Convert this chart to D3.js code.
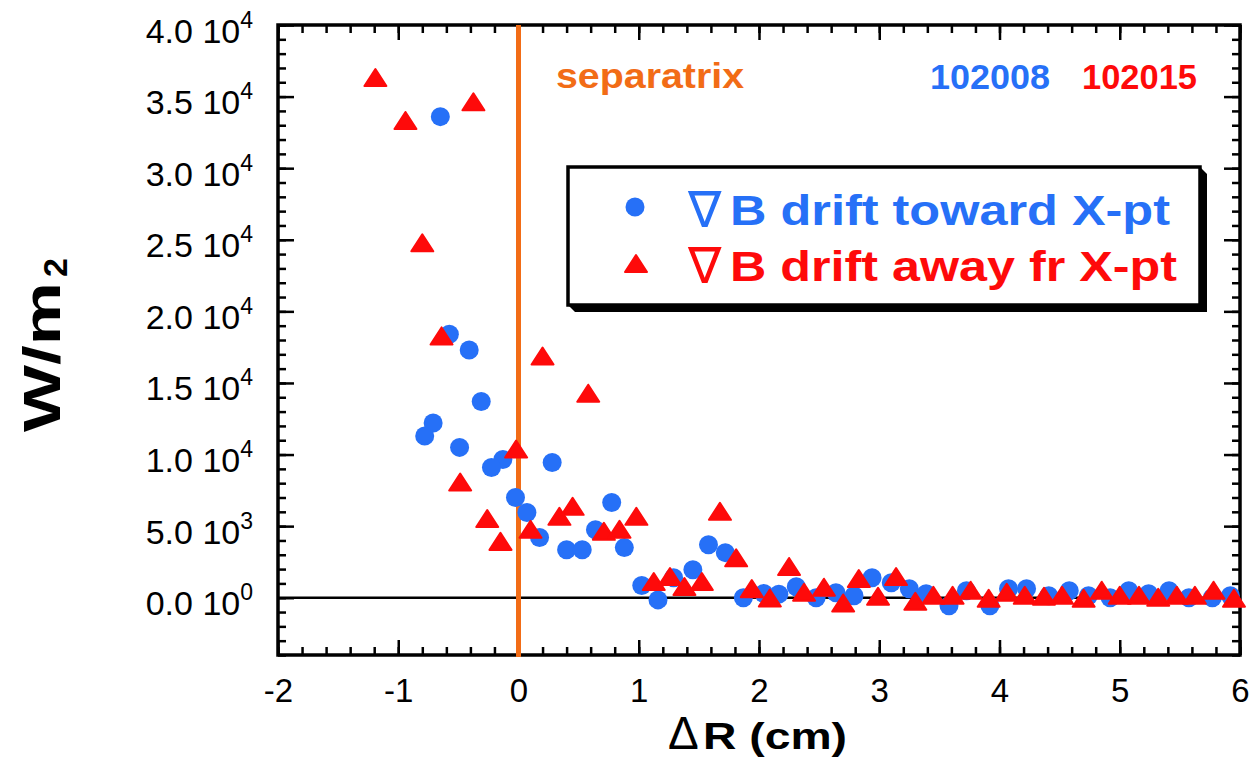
<!DOCTYPE html>
<html>
<head>
<meta charset="utf-8">
<script src="https://cdn.jsdelivr.net/npm/d3@7"></script>
<style>
  body { margin: 0; background: #fff; }
  text { font-family: "Liberation Sans", Arial, sans-serif; }
</style>
</head>
<body>
<div id="chart"></div>
<script>
// shot 102008, grad-B drift toward X-pt (blue circles)
let blueX = [-0.65, -0.575, -0.41, -0.31, -0.71, -0.78, -0.49, -0.13, -0.225, 0.28,
    -0.025, 0.07, 0.775, 0.175, 0.64, 0.40, 0.53, 0.88, 1.58, 1.72,
    1.45, 1.025, 1.29, 1.16, 1.87, 2.04, 2.165, 2.31, 2.475, 2.64,
    2.79, 2.94, 3.10, 3.25, 3.39, 3.58, 3.725, 3.92, 4.075, 4.225,
    4.41, 4.58, 4.74, 4.92, 5.075, 5.24, 5.41, 5.575, 5.77, 5.92]
let blueY = [33600, 18400, 17300, 13700, 12200, 11300, 10500, 9650, 9100, 9450,
    7000, 5950, 6650, 4200, 4750, 3350, 3350, 3500, 3700, 3150,
    1950, 850, 1400, -150, 0, 300, 250, 770, 0, 350,
    140, 1400, 1050, 630, 280, -560, 490, -560, 630, 630,
    140, 490, 140, 0, 490, 280, 490, 0, 0, 140]

// shot 102015, grad-B drift away fr X-pt (red triangles)
let redX = [-1.19, -0.94, -0.375, -0.80, -0.64, 0.20, 0.58, -0.02, -0.485, -0.26,
    -0.15, 0.10, 0.34, 0.45, 0.71, 0.84, 0.98, 1.675, 1.81, 1.125,
    1.26, 1.38, 1.525, 1.94, 2.09, 2.25, 2.375, 2.54, 2.70, 2.83,
    2.99, 3.14, 3.30, 3.45, 3.61, 3.76, 3.91, 4.06, 4.21, 4.37,
    4.52, 4.70, 4.85, 5.00, 5.16, 5.32, 5.475, 5.625, 5.78, 5.95]
let redY = [36300, 33300, 34600, 24750, 18250, 16850, 14250, 10350, 8050, 5500,
    3900, 4750, 5650, 6350, 4600, 4750, 5650, 6000, 2750, 1100,
    1450, 750, 1100, 600, -50, 2150, 350, 700, -400, 1300,
    70, 1450, -280, 140, 140, 490, -70, 350, 140, 70,
    140, -70, 490, 140, 140, 0, 140, 140, 490, -70]

let xDomain = [-2, 6]
let yDomain = [-4000, 40000]
let xTicks = [-2, -1, 0, 1, 2, 3, 4, 5, 6]
let yTicks = [0, 5000, 10000, 15000, 20000, 25000, 30000, 35000, 40000]
let yMantissa = ['0.0', '5.0', '1.0', '1.5', '2.0', '2.5', '3.0', '3.5', '4.0']
let yExponent = ['0', '3', '4', '4', '4', '4', '4', '4', '4']
let shotNames = ['102008', '102015']
let seriesNames = ['B drift toward X-pt', 'B drift away fr X-pt']

let blue = '#2670f7'
let red = '#fe0a0a'
let orange = '#f26c16'

let svg = d3.select('#chart').append('svg')
    .attr('width', 1251)
    .attr('height', 765)

let plot = {left: 278, right: 1240, top: 25, bottom: 655}

let xScale = d3.scaleLinear().domain(xDomain).range([plot.left, plot.right])
let yScale = d3.scaleLinear().domain(yDomain).range([plot.bottom, plot.top])

let xMinor = xScale.ticks(40)
let yMinor = yScale.ticks(44)

// minor ticks on all four sides, pointing inward
let minorAxes = [
    [d3.axisBottom(xScale).tickValues(xMinor), 'translate(0,' + plot.bottom + ')'],
    [d3.axisTop(xScale).tickValues(xMinor), 'translate(0,' + plot.top + ')'],
    [d3.axisLeft(yScale).tickValues(yMinor), 'translate(' + plot.left + ',0)'],
    [d3.axisRight(yScale).tickValues(yMinor), 'translate(' + plot.right + ',0)']
]
minorAxes.forEach(a => {
    let g = svg.append('g').attr('transform', a[1])
        .call(a[0].tickSize(-8).tickSizeOuter(0).tickFormat(''))
    g.select('.domain').remove()
    g.selectAll('.tick line').attr('stroke-width', 2.5)
})

// major ticks
let xAxisB = svg.append('g').attr('transform', 'translate(0,' + plot.bottom + ')')
    .call(d3.axisBottom(xScale).tickValues(xTicks).tickSize(-15).tickSizeOuter(0).tickPadding(24)
        .tickFormat(d => String(d)))
let xAxisT = svg.append('g').attr('transform', 'translate(0,' + plot.top + ')')
    .call(d3.axisTop(xScale).tickValues(xTicks).tickSize(-15).tickSizeOuter(0).tickFormat(''))
let yAxisL = svg.append('g').attr('transform', 'translate(' + plot.left + ',0)')
    .call(d3.axisLeft(yScale).tickValues(yTicks).tickSize(-16).tickSizeOuter(0).tickPadding(25).tickFormat(''))
let yAxisR = svg.append('g').attr('transform', 'translate(' + plot.right + ',0)')
    .call(d3.axisRight(yScale).tickValues(yTicks).tickSize(-16).tickSizeOuter(0).tickFormat(''))

;[xAxisB, xAxisT, yAxisL, yAxisR].forEach(g => {
    g.select('.domain').remove()
    g.selectAll('.tick line').attr('stroke-width', 2.5)
})

xAxisB.selectAll('.tick text')
    .style('font-size', '33px')
    .attr('fill', '#000')

// y labels like "3.5 10^4"
yAxisL.selectAll('.tick text').each(function(d) {
    let i = yTicks.indexOf(d)
    let t = d3.select(this)
        .attr('dy', 17)
        .style('font-size', '34px')
        .attr('fill', '#000')
    t.append('tspan').text(yMantissa[i] + ' 10')
    t.append('tspan').text(yExponent[i]).style('font-size', '23px').attr('dy', -15)
})

// frame
svg.append('rect')
    .attr('x', plot.left).attr('y', plot.top)
    .attr('width', plot.right - plot.left).attr('height', plot.bottom - plot.top)
    .attr('fill', 'none').attr('stroke', '#000').attr('stroke-width', 3.5)

// zero line
svg.append('line')
    .attr('x1', xScale(xDomain[0])).attr('x2', xScale(xDomain[1]))
    .attr('y1', yScale(0)).attr('y2', yScale(0))
    .attr('stroke', '#000').attr('stroke-width', 2.5)

// separatrix
svg.append('line')
    .attr('x1', xScale(0)).attr('x2', xScale(0))
    .attr('y1', plot.top).attr('y2', plot.bottom + 2)
    .attr('stroke', orange).attr('stroke-width', 5)

svg.append('text').text('separatrix')
    .attr('x', 556).attr('y', 88)
    .attr('fill', orange).style('font-weight', 'bold').style('font-size', '35px')
    .attr('textLength', 188).attr('lengthAdjust', 'spacingAndGlyphs')

svg.append('text').text(shotNames[0])
    .attr('x', 930).attr('y', 89)
    .attr('fill', blue).style('font-weight', 'bold').style('font-size', '35px')
    .attr('textLength', 120).attr('lengthAdjust', 'spacingAndGlyphs')
svg.append('text').text(shotNames[1])
    .attr('x', 1082).attr('y', 89)
    .attr('fill', red).style('font-weight', 'bold').style('font-size', '35px')
    .attr('textLength', 115).attr('lengthAdjust', 'spacingAndGlyphs')

// triangle marker, bbox centred on the point
let triangle = 'M0,-9L11,8L-11,8Z'

let blueData = blueX.map((x, i) => ({x: x, y: blueY[i]}))
let redData = redX.map((x, i) => ({x: x, y: redY[i]}))

let marks = svg.append('g')
marks.selectAll('circle').data(blueData).enter().append('circle')
    .attr('cx', d => xScale(d.x))
    .attr('cy', d => yScale(d.y))
    .attr('r', 9.5)
    .attr('fill', blue)
marks.selectAll('path').data(redData).enter().append('path')
    .attr('d', triangle)
    .attr('transform', d => 'translate(' + xScale(d.x) + ',' + yScale(d.y) + ')')
    .attr('fill', red)
    .attr('stroke', red).attr('stroke-width', 2).attr('stroke-linejoin', 'round')

// legend box with bevelled drop shadow
let legend = svg.append('g')
legend.append('path')
    .attr('d', 'M568,305L575,312L1207,312L1207,174L1200,167Z')
    .attr('fill', '#000')
legend.append('rect')
    .attr('x', 568).attr('y', 167).attr('width', 632).attr('height', 138)
    .attr('fill', '#fff').attr('stroke', '#000').attr('stroke-width', 3.5)

legend.append('circle').attr('cx', 635).attr('cy', 207).attr('r', 9.5).attr('fill', blue)
legend.append('path').attr('d', triangle).attr('transform', 'translate(636,264)')
    .attr('fill', red).attr('stroke', red).attr('stroke-width', 2).attr('stroke-linejoin', 'round')

let rows = [[blue, 225, 440], [red, 281, 447]]
rows.forEach((r, i) => {
    legend.append('text').text('\u2207')
        .attr('x', 688).attr('y', r[1] + 2)
        .attr('fill', r[0]).style('font-family', '"DejaVu Sans"').style('font-size', '50px')
    legend.append('text').text(seriesNames[i])
        .attr('x', 730).attr('y', r[1])
        .attr('fill', r[0]).style('font-weight', 'bold').style('font-size', '42px')
        .attr('textLength', r[2]).attr('lengthAdjust', 'spacingAndGlyphs')
})

// axis titles
svg.append('text').text('\u0394')
    .attr('x', 668).attr('y', 749)
    .style('font-size', '46px')
svg.append('text').text('R (cm)')
    .attr('x', 703).attr('y', 749)
    .style('font-weight', 'bold').style('font-size', '37px')
    .attr('textLength', 144).attr('lengthAdjust', 'spacingAndGlyphs')

let ytitle = svg.append('g').attr('transform', 'translate(60,432) rotate(-90)')
ytitle.append('text').text('W/m')
    .attr('x', 0).attr('y', 0)
    .style('font-weight', 'bold').style('font-size', '52px')
    .attr('textLength', 150).attr('lengthAdjust', 'spacingAndGlyphs')
svg.append('text').text('2')
    .attr('transform', 'translate(67,277) rotate(-90)')
    .style('font-weight', 'bold').style('font-size', '34px')
</script>
</body>
</html>
